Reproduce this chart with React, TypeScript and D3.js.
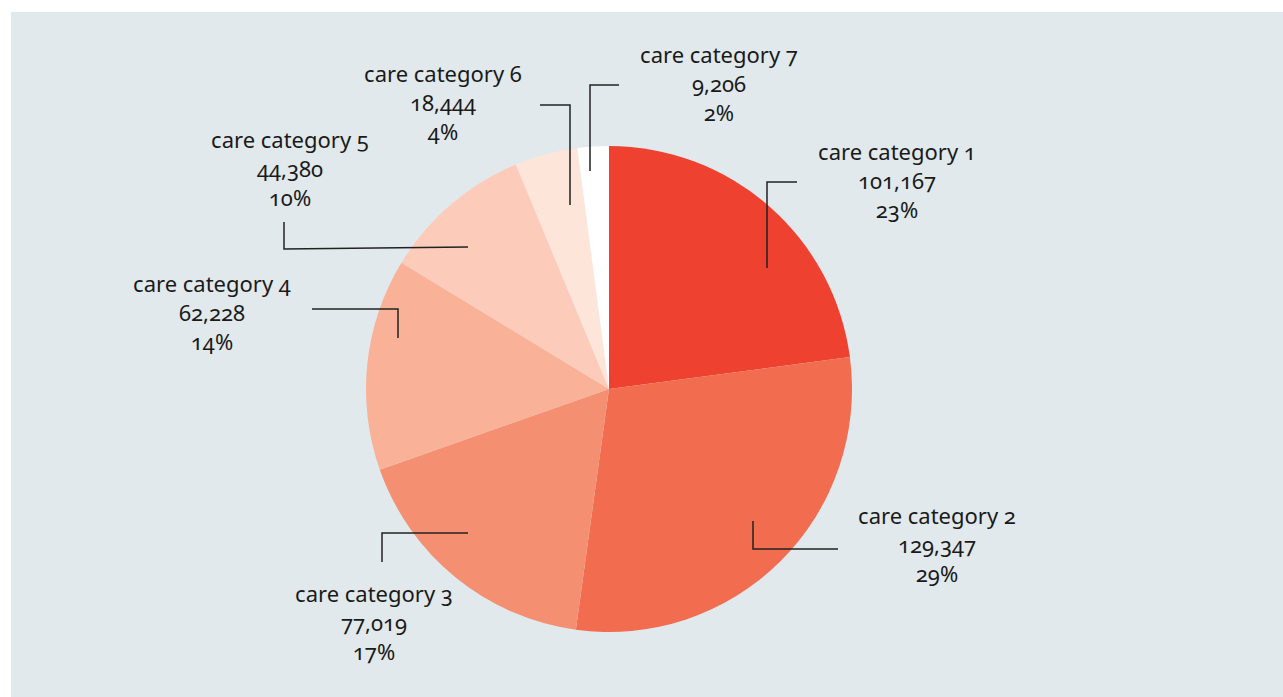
import React from "react";
import * as d3 from "d3";

const categories = [
  "care category 1",
  "care category 2",
  "care category 3",
  "care category 4",
  "care category 5",
  "care category 6",
  "care category 7",
];
const values = [101167, 129347, 77019, 62228, 44380, 18444, 9206];
const percentLabels = ["23%", "29%", "17%", "14%", "10%", "4%", "2%"];
const colors = ["#ef4130", "#f26c4f", "#f58f72", "#f9b197", "#fccbb9", "#fee5da", "#ffffff"];

// label layout (relative to pie centre): text centre, leader polyline
const labelLayout = [
  { tx: 288, ty: -229, line: [[158, -121], [158, -207], [188, -207]] },
  { tx: 328, ty: 135, line: [[144, 132], [144, 160], [229, 160]] },
  { tx: -235, ty: 213, line: [[-141, 144], [-227, 144], [-227, 173]] },
  { tx: -397, ty: -97, line: [[-211, -51], [-211, -80], [-297, -80]] },
  { tx: -319, ty: -241, line: [[-141, -142], [-325, -140], [-325, -167]] },
  { tx: -166, ty: -307, line: [[-39, -184], [-39, -284], [-69, -284]] },
  { tx: 110, ty: -326, line: [[-19, -218], [-19, -304], [10, -304]] },
];

const W = 1283;
const H = 697;
const cx = 609;
const cy = 389;
const R = 243;

export default function App() {
  const data = categories.map((c, i) => ({ c, v: values[i], p: percentLabels[i], i }));
  const pie = d3.pie<any>().value((d) => d.v).sort(null);
  const arcs = pie(data);
  const arc = d3.arc<any>().innerRadius(0).outerRadius(R);
  const fmt = d3.format(",");
  const line = d3.line();
  return (
    <svg
      width={W}
      height={H}
      style={{ position: "absolute", left: 0, top: 0 }}
      fontFamily="'Noto Sans', sans-serif"
    >
      <rect x={11} y={12} width={W - 11} height={H - 12} fill="#e1e9ec" />
      <g transform={`translate(${cx},${cy})`}>
        {arcs.map((a, i) => (
          <path key={i} d={arc(a) as string} fill={colors[i]} />
        ))}
        {arcs.map((a, i) => {
          const L = labelLayout[i];
          return (
            <g key={"l" + i}>
              <path
                d={line(L.line as [number, number][]) as string}
                fill="none"
                stroke="#222"
                strokeWidth={1.5}
              />
              <text
                x={L.tx}
                y={L.ty}
                textAnchor="middle"
                fontSize={22}
                fill="#1a1a1a"
                style={{ fontVariantNumeric: "oldstyle-nums" }}
              >
                <tspan x={L.tx} dy={0}>{a.data.c}</tspan>
                <tspan x={L.tx} dy={29}>{fmt(a.data.v)}</tspan>
                <tspan x={L.tx} dy={29}>{a.data.p}</tspan>
              </text>
            </g>
          );
        })}
      </g>
    </svg>
  );
}
